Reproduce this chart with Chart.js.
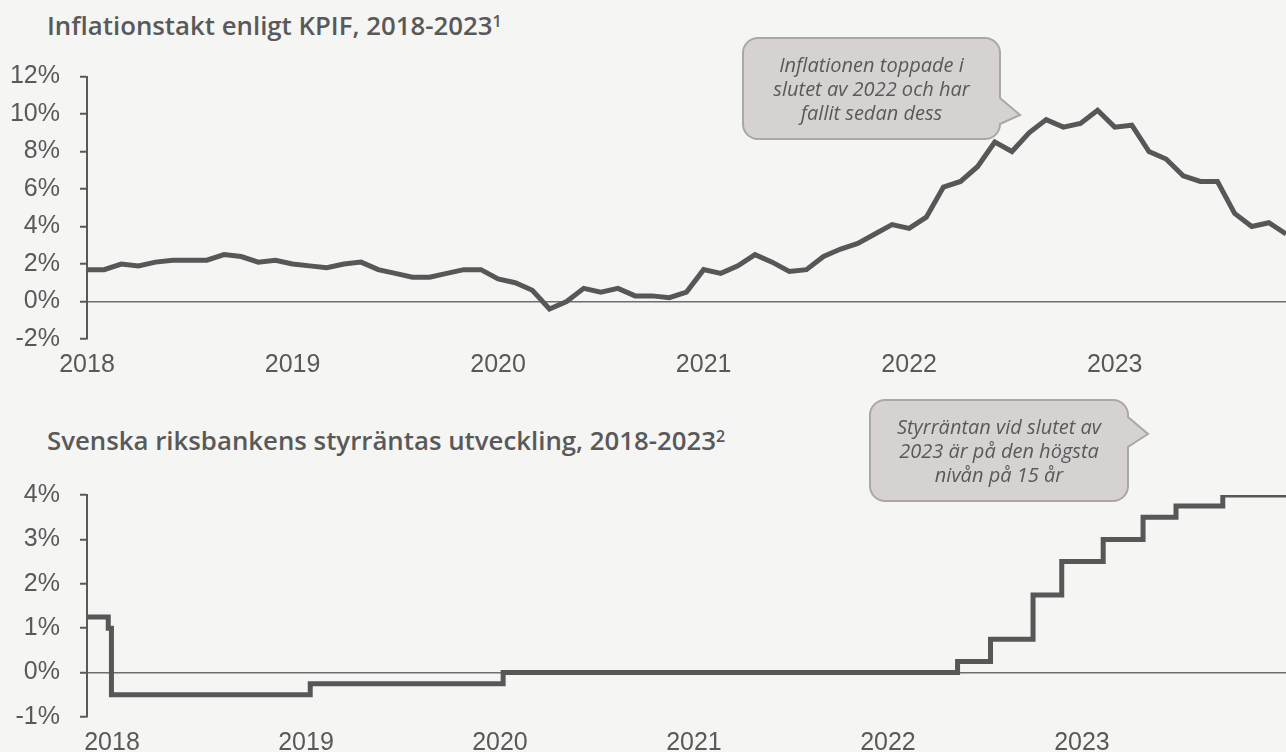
<!DOCTYPE html>
<html>
<head>
<meta charset="utf-8">
<script src="https://cdn.jsdelivr.net/npm/chart.js@4.4.0/dist/chart.umd.min.js"></script>
<style>
  html, body { margin:0; padding:0; width:1286px; height:752px; overflow:hidden; background:#f5f5f4; }
  .title { position:absolute; left:47px; font-family:'Open Sans', sans-serif; font-weight:600; font-size:25.8px; color:#595959; white-space:nowrap; line-height:34px; }
  .title sup { font-size:16px; vertical-align:top; position:relative; top:-4px; }
  .wrap { position:absolute; left:0; width:1286px; }
  #w1 { top:0; height:400px; }
  #w2 { top:460px; height:292px; }
  svg.bubbles { position:absolute; left:0; top:0; width:1286px; height:752px; pointer-events:none; }
  .ctext { position:absolute; display:flex; align-items:center; justify-content:center; text-align:center;
           font-family:'Open Sans', sans-serif; font-style:italic; font-size:20px; line-height:24px; color:#595959; }
</style>
</head>
<body>
<div class="title" style="top:8px;">Inflationstakt enligt KPIF, 2018-2023<sup>1</sup></div>
<div class="title" style="top:423px;">Svenska riksbankens styrräntas utveckling, 2018-2023<sup>2</sup></div>
<div class="wrap" id="w1"><canvas id="c1" width="1286" height="400"></canvas></div>
<div class="wrap" id="w2"><canvas id="c2" width="1286" height="292"></canvas></div>
<svg class="bubbles" viewBox="0 0 1286 752">
  <path d="M758 38 H985 A15 15 0 0 1 1000 53 V98 L1020 115 L1000 124 A15 15 0 0 1 985 139 H758 A15 15 0 0 1 743 124 V53 A15 15 0 0 1 758 38 Z" fill="#d6d2d2" stroke="#aca7a7" stroke-width="2"/>
  <path d="M885 400 H1113 A15 15 0 0 1 1128 415 V417 L1148 434 L1128 447 V486 A15 15 0 0 1 1113 501 H885 A15 15 0 0 1 870 486 V415 A15 15 0 0 1 885 400 Z" fill="#d6d2d2" stroke="#aca7a7" stroke-width="2"/>
</svg>
<div class="ctext" style="left:743px; top:38px; width:257px; height:101px;">Inflationen toppade i<br>slutet av 2022 och har<br>fallit sedan dess</div>
<div class="ctext" style="left:870px; top:400px; width:258px; height:101px;">Styrräntan vid slutet av<br>2023 är på den högsta<br>nivån på 15 år</div>

<script>
// ---------- DATA ----------
const yearLabels = ['2018', '2019', '2020', '2021', '2022', '2023'];

// KPIF, annual change in %, monthly Jan 2018 – Nov 2023
const kpif2018 = [1.7, 1.7, 2.0, 1.9, 2.1, 2.2, 2.2, 2.2, 2.5, 2.4, 2.1, 2.2];
const kpif2019 = [2.0, 1.9, 1.8, 2.0, 2.1, 1.7, 1.5, 1.3, 1.3, 1.5, 1.7, 1.7];
const kpif2020 = [1.2, 1.0, 0.6, -0.4, 0.0, 0.7, 0.5, 0.7, 0.3, 0.3, 0.2, 0.5];
const kpif2021 = [1.7, 1.5, 1.9, 2.5, 2.1, 1.6, 1.7, 2.4, 2.8, 3.1, 3.6, 4.1];
const kpif2022 = [3.9, 4.5, 6.1, 6.4, 7.2, 8.5, 8.0, 9.0, 9.7, 9.3, 9.5, 10.2];
const kpif2023 = [9.3, 9.4, 8.0, 7.6, 6.7, 6.4, 6.4, 4.7, 4.0, 4.2, 3.6];
const kpifTicks = [-2, 0, 2, 4, 6, 8, 10, 12];

// Riksbank policy rate, % (date of change, new level)
const rateDates  = ['2017-11-15', '2017-12-25', '2017-12-31', '2019-01-09', '2020-01-07', '2022-05-12',
                    '2022-07-13', '2022-10-01', '2022-11-24', '2023-02-10', '2023-04-26', '2023-06-27',
                    '2023-09-23', '2024-01-20'];
const rateValues = [1.25, 1.0, -0.5, -0.25, 0.0, 0.25, 0.75, 1.75, 2.5, 3.0, 3.5, 3.75, 4.0, 4.0];
const rateTicks  = [-1, 0, 1, 2, 3, 4];

// ---------- BUILD ----------
const kpifValues = [].concat(kpif2018, kpif2019, kpif2020, kpif2021, kpif2022, kpif2023);
const kpifPoints = kpifValues.map((v, i) => ({ x: i, y: v }));   // x = months since Jan 2018
const kpifYearTicks = yearLabels.map((_, i) => i * 12);

function toYear(s) {
  const d = new Date(s + 'T00:00:00Z');
  const y = d.getUTCFullYear();
  const start = Date.UTC(y, 0, 1), end = Date.UTC(y + 1, 0, 1);
  return y + (d.getTime() - start) / (end - start);
}
const ratePoints = rateDates.map((d, i) => ({ x: toYear(d), y: rateValues[i] }));
const rateYearTicks = yearLabels.map(Number);

const TEXT = '#595959';
const LINE = '#575757';
const tickFont = { family: "'Liberation Sans', Arial, sans-serif", size: 25 };

function yScale(min, max, ticks) {
  return {
    type: 'linear', min, max,
    afterBuildTicks: s => { s.ticks = ticks.map(v => ({ value: v })); },
    afterFit: s => { s.width = 87; },
    ticks: { callback: v => v + '%', color: TEXT, font: tickFont, padding: 20 },
    grid: {
      drawOnChartArea: true,
      color: c => (c.tick && c.tick.value === 0) ? '#6e6e6e' : 'rgba(0,0,0,0)',
      lineWidth: 1.5,
      tickLength: 7,
      tickColor: TEXT,
      tickWidth: 2
    },
    border: { display: true, color: TEXT, width: 2 }
  };
}
function xScale(min, max, ticks, h) {
  return {
    type: 'linear', min, max,
    afterBuildTicks: s => { s.ticks = ticks.map(v => ({ value: v })); },
    afterFit: s => { s.height = h; },
    ticks: { callback: (v, i) => yearLabels[i], color: TEXT, font: tickFont, padding: 3, maxRotation: 0, autoSkip: false },
    grid: { display: false },
    border: { display: false }
  };
}
const common = {
  responsive: false, animation: false, devicePixelRatio: 1,
  plugins: { legend: { display: false }, tooltip: { enabled: false } },
  elements: { point: { radius: 0 } }
};

new Chart(document.getElementById('c1'), {
  type: 'line',
  data: { datasets: [{ data: kpifPoints, borderColor: LINE, borderWidth: 5, tension: 0, fill: false, borderJoinStyle: 'miter' }] },
  options: Object.assign({}, common, {
    layout: { padding: { top: 76.5, left: 0, right: 0, bottom: 0 } },
    scales: { x: xScale(0, kpifValues.length - 1, kpifYearTicks, 61), y: yScale(-2, 12, kpifTicks) }
  })
});

new Chart(document.getElementById('c2'), {
  type: 'line',
  data: { datasets: [{ data: ratePoints, borderColor: LINE, borderWidth: 5, stepped: true, fill: false }] },
  options: Object.assign({}, common, {
    layout: { padding: { top: 24, left: 0, right: 0, bottom: 0 } },
    scales: { x: xScale(ratePoints[0].x, ratePoints[ratePoints.length - 1].x, rateYearTicks, 34.3), y: yScale(-1, 4, rateTicks) }
  })
});
</script>
</body>
</html>
